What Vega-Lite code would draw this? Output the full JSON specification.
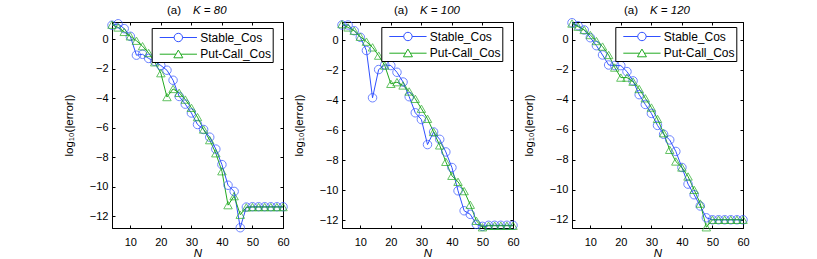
{
  "$schema": "https://vega.github.io/schema/vega-lite/v6.json",
  "padding": {"left": 62, "top": 3, "right": 5, "bottom": 0},
  "background": "white",
  "config": {
    "font": "Liberation Sans",
    "view": {"stroke": "#000", "strokeWidth": 1},
    "axis": {"domainColor": "#000", "tickColor": "#000", "labelColor": "#000", "titleColor": "#000", "grid": false, "titleFontWeight": "normal", "labelFontSize": 11, "titleFontSize": 11.5, "labelFont": "Liberation Sans", "titleFont": "Liberation Sans", "domainWidth": 1, "tickWidth": 1, "labelOverlap": false, "labelFlush": false, "labelBound": false, "tickCount": 20},
    "legend": {"labelFont": "Liberation Sans", "labelColor": "#000", "title": null, "orient": "none", "fillColor": "white", "strokeColor": "black", "padding": 1.5, "symbolSize": 225, "symbolOffset": 6, "rowPadding": 1.7, "labelFontSize": 12, "labelOffset": 25, "symbolStrokeWidth": 1}
  },
  "datasets": {
    "p80": [
      {"N":4,"m":"Stable_Cos","v":0.95},{"N":6,"m":"Stable_Cos","v":1.05},{"N":8,"m":"Stable_Cos","v":0.72},{"N":10,"m":"Stable_Cos","v":0.2},{"N":12,"m":"Stable_Cos","v":-1.08},{"N":14,"m":"Stable_Cos","v":-1.02},{"N":16,"m":"Stable_Cos","v":-1.3},{"N":18,"m":"Stable_Cos","v":-1.5},{"N":20,"m":"Stable_Cos","v":-1.78},{"N":22,"m":"Stable_Cos","v":-2.1},{"N":24,"m":"Stable_Cos","v":-2.78},{"N":26,"m":"Stable_Cos","v":-3.88},{"N":28,"m":"Stable_Cos","v":-4.4},{"N":30,"m":"Stable_Cos","v":-5.0},{"N":32,"m":"Stable_Cos","v":-5.78},{"N":34,"m":"Stable_Cos","v":-6.12},{"N":36,"m":"Stable_Cos","v":-6.64},{"N":38,"m":"Stable_Cos","v":-7.45},{"N":40,"m":"Stable_Cos","v":-8.5},{"N":42,"m":"Stable_Cos","v":-9.9},{"N":44,"m":"Stable_Cos","v":-10.32},{"N":46,"m":"Stable_Cos","v":-12.78},{"N":48,"m":"Stable_Cos","v":-11.38},{"N":50,"m":"Stable_Cos","v":-11.36},{"N":52,"m":"Stable_Cos","v":-11.36},{"N":54,"m":"Stable_Cos","v":-11.36},{"N":56,"m":"Stable_Cos","v":-11.36},{"N":58,"m":"Stable_Cos","v":-11.36},{"N":60,"m":"Stable_Cos","v":-11.36},
      {"N":4,"m":"Put-Call_Cos","v":0.99},{"N":6,"m":"Put-Call_Cos","v":0.8},{"N":8,"m":"Put-Call_Cos","v":0.5},{"N":10,"m":"Put-Call_Cos","v":0.2},{"N":12,"m":"Put-Call_Cos","v":-0.1},{"N":14,"m":"Put-Call_Cos","v":-0.47},{"N":16,"m":"Put-Call_Cos","v":-0.93},{"N":18,"m":"Put-Call_Cos","v":-1.56},{"N":20,"m":"Put-Call_Cos","v":-2.3},{"N":22,"m":"Put-Call_Cos","v":-3.92},{"N":24,"m":"Put-Call_Cos","v":-3.37},{"N":26,"m":"Put-Call_Cos","v":-3.63},{"N":28,"m":"Put-Call_Cos","v":-4.09},{"N":30,"m":"Put-Call_Cos","v":-4.65},{"N":32,"m":"Put-Call_Cos","v":-5.28},{"N":34,"m":"Put-Call_Cos","v":-6.12},{"N":36,"m":"Put-Call_Cos","v":-6.84},{"N":38,"m":"Put-Call_Cos","v":-7.73},{"N":40,"m":"Put-Call_Cos","v":-8.95},{"N":42,"m":"Put-Call_Cos","v":-11.25},{"N":44,"m":"Put-Call_Cos","v":-10.64},{"N":46,"m":"Put-Call_Cos","v":-11.9},{"N":48,"m":"Put-Call_Cos","v":-11.4},{"N":50,"m":"Put-Call_Cos","v":-11.38},{"N":52,"m":"Put-Call_Cos","v":-11.38},{"N":54,"m":"Put-Call_Cos","v":-11.38},{"N":56,"m":"Put-Call_Cos","v":-11.38},{"N":58,"m":"Put-Call_Cos","v":-11.38},{"N":60,"m":"Put-Call_Cos","v":-11.38}
    ],
    "p100": [
      {"N":4,"m":"Stable_Cos","v":1.0},{"N":6,"m":"Stable_Cos","v":1.0},{"N":8,"m":"Stable_Cos","v":0.62},{"N":10,"m":"Stable_Cos","v":0.18},{"N":12,"m":"Stable_Cos","v":-0.7},{"N":14,"m":"Stable_Cos","v":-3.85},{"N":16,"m":"Stable_Cos","v":-1.97},{"N":18,"m":"Stable_Cos","v":-1.66},{"N":20,"m":"Stable_Cos","v":-1.7},{"N":22,"m":"Stable_Cos","v":-2.15},{"N":24,"m":"Stable_Cos","v":-2.8},{"N":26,"m":"Stable_Cos","v":-3.78},{"N":28,"m":"Stable_Cos","v":-4.85},{"N":30,"m":"Stable_Cos","v":-5.3},{"N":32,"m":"Stable_Cos","v":-6.97},{"N":34,"m":"Stable_Cos","v":-6.13},{"N":36,"m":"Stable_Cos","v":-6.62},{"N":38,"m":"Stable_Cos","v":-7.46},{"N":40,"m":"Stable_Cos","v":-8.5},{"N":42,"m":"Stable_Cos","v":-10.05},{"N":44,"m":"Stable_Cos","v":-11.38},{"N":46,"m":"Stable_Cos","v":-11.62},{"N":48,"m":"Stable_Cos","v":-12.29},{"N":50,"m":"Stable_Cos","v":-12.42},{"N":52,"m":"Stable_Cos","v":-12.35},{"N":54,"m":"Stable_Cos","v":-12.35},{"N":56,"m":"Stable_Cos","v":-12.35},{"N":58,"m":"Stable_Cos","v":-12.35},{"N":60,"m":"Stable_Cos","v":-12.35},
      {"N":4,"m":"Put-Call_Cos","v":1.06},{"N":6,"m":"Put-Call_Cos","v":0.84},{"N":8,"m":"Put-Call_Cos","v":0.62},{"N":10,"m":"Put-Call_Cos","v":0.22},{"N":12,"m":"Put-Call_Cos","v":-0.11},{"N":14,"m":"Put-Call_Cos","v":-0.49},{"N":16,"m":"Put-Call_Cos","v":-1.04},{"N":18,"m":"Put-Call_Cos","v":-1.7},{"N":20,"m":"Put-Call_Cos","v":-2.92},{"N":22,"m":"Put-Call_Cos","v":-2.81},{"N":24,"m":"Put-Call_Cos","v":-3.03},{"N":26,"m":"Put-Call_Cos","v":-3.43},{"N":28,"m":"Put-Call_Cos","v":-3.92},{"N":30,"m":"Put-Call_Cos","v":-4.58},{"N":32,"m":"Put-Call_Cos","v":-5.25},{"N":34,"m":"Put-Call_Cos","v":-6.13},{"N":36,"m":"Put-Call_Cos","v":-7.02},{"N":38,"m":"Put-Call_Cos","v":-8.12},{"N":40,"m":"Put-Call_Cos","v":-9.05},{"N":42,"m":"Put-Call_Cos","v":-9.45},{"N":44,"m":"Put-Call_Cos","v":-10.07},{"N":46,"m":"Put-Call_Cos","v":-10.98},{"N":48,"m":"Put-Call_Cos","v":-12.05},{"N":50,"m":"Put-Call_Cos","v":-12.48},{"N":52,"m":"Put-Call_Cos","v":-12.38},{"N":54,"m":"Put-Call_Cos","v":-12.38},{"N":56,"m":"Put-Call_Cos","v":-12.38},{"N":58,"m":"Put-Call_Cos","v":-12.38},{"N":60,"m":"Put-Call_Cos","v":-12.38}
    ],
    "p120": [
      {"N":4,"m":"Stable_Cos","v":1.15},{"N":6,"m":"Stable_Cos","v":0.95},{"N":8,"m":"Stable_Cos","v":0.67},{"N":10,"m":"Stable_Cos","v":0.15},{"N":12,"m":"Stable_Cos","v":-0.38},{"N":14,"m":"Stable_Cos","v":-1.0},{"N":16,"m":"Stable_Cos","v":-1.67},{"N":18,"m":"Stable_Cos","v":-1.71},{"N":20,"m":"Stable_Cos","v":-1.71},{"N":22,"m":"Stable_Cos","v":-2.11},{"N":24,"m":"Stable_Cos","v":-2.73},{"N":26,"m":"Stable_Cos","v":-3.65},{"N":28,"m":"Stable_Cos","v":-4.3},{"N":30,"m":"Stable_Cos","v":-4.9},{"N":32,"m":"Stable_Cos","v":-5.7},{"N":34,"m":"Stable_Cos","v":-6.29},{"N":36,"m":"Stable_Cos","v":-6.67},{"N":38,"m":"Stable_Cos","v":-7.44},{"N":40,"m":"Stable_Cos","v":-8.51},{"N":42,"m":"Stable_Cos","v":-9.62},{"N":44,"m":"Stable_Cos","v":-10.33},{"N":46,"m":"Stable_Cos","v":-11.08},{"N":48,"m":"Stable_Cos","v":-11.87},{"N":50,"m":"Stable_Cos","v":-12.0},{"N":52,"m":"Stable_Cos","v":-12.0},{"N":54,"m":"Stable_Cos","v":-12.0},{"N":56,"m":"Stable_Cos","v":-12.0},{"N":58,"m":"Stable_Cos","v":-12.0},{"N":60,"m":"Stable_Cos","v":-12.0},
      {"N":4,"m":"Put-Call_Cos","v":1.1},{"N":6,"m":"Put-Call_Cos","v":0.89},{"N":8,"m":"Put-Call_Cos","v":0.67},{"N":10,"m":"Put-Call_Cos","v":0.33},{"N":12,"m":"Put-Call_Cos","v":-0.07},{"N":14,"m":"Put-Call_Cos","v":-0.44},{"N":16,"m":"Put-Call_Cos","v":-1.0},{"N":18,"m":"Put-Call_Cos","v":-1.84},{"N":20,"m":"Put-Call_Cos","v":-2.51},{"N":22,"m":"Put-Call_Cos","v":-2.51},{"N":24,"m":"Put-Call_Cos","v":-2.78},{"N":26,"m":"Put-Call_Cos","v":-3.27},{"N":28,"m":"Put-Call_Cos","v":-3.89},{"N":30,"m":"Put-Call_Cos","v":-4.51},{"N":32,"m":"Put-Call_Cos","v":-5.27},{"N":34,"m":"Put-Call_Cos","v":-6.22},{"N":36,"m":"Put-Call_Cos","v":-7.33},{"N":38,"m":"Put-Call_Cos","v":-8.11},{"N":40,"m":"Put-Call_Cos","v":-8.51},{"N":42,"m":"Put-Call_Cos","v":-9.11},{"N":44,"m":"Put-Call_Cos","v":-10.0},{"N":46,"m":"Put-Call_Cos","v":-10.92},{"N":48,"m":"Put-Call_Cos","v":-12.5},{"N":50,"m":"Put-Call_Cos","v":-12.0},{"N":52,"m":"Put-Call_Cos","v":-12.0},{"N":54,"m":"Put-Call_Cos","v":-12.0},{"N":56,"m":"Put-Call_Cos","v":-12.0},{"N":58,"m":"Put-Call_Cos","v":-12.0},{"N":60,"m":"Put-Call_Cos","v":-12.0}
    ]
  },
  "spacing": 59,
  "bounds": "flush",
  "resolve": {"legend": {"color": "independent"}},
  "hconcat": [
    {
      "width": 171, "height": 206,
      "data": {"name": "p80"},
      "layer": [
        {"layer": [
          {"mark": {"type": "line", "strokeWidth": 1},
           "encoding": {
             "x": {"field": "N", "type": "quantitative", "scale": {"domain": [4, 60], "nice": false, "zero": false}, "axis": {"values": [10,20,30,40,50,60], "tickCount": 20, "labelOverlap": false, "title": "N", "titleFontStyle": "italic", "tickSize": -3, "labelPadding": 11, "titlePadding": 0}},
             "y": {"field": "v", "type": "quantitative", "scale": {"domain": [-12.8, 1.17], "nice": false, "zero": false}, "axis": {"values": [-12,-10,-8,-6,-4,-2,0], "tickCount": 20, "labelOverlap": false, "format": "d", "title": "log₁₀(|error|)", "tickSize": -3, "labelPadding": 7, "titlePadding": 15}},
             "color": {"field": "m", "type": "nominal", "scale": {"domain": ["Stable_Cos", "Put-Call_Cos"], "range": ["#3050ff", "#22aa22"]},
               "legend": {"legendX": 39.7, "legendY": 6, "encode": {"symbols": {"update": {"shape": {"signal": "datum.value === 'Stable_Cos' ? 'M-1,0L0.925,0M2.045,0L3.97,0M2.045,0A0.56,0.56,0,1,1,0.925,0A0.56,0.56,0,1,1,2.045,0' : 'M-1,0L1.165,0M1.805,0L3.97,0M1.485,-0.55L2.085,0.48L0.885,0.48Z'"}, "fill": {"value": "transparent"}}}}}}
           }},
          {"transform": [{"filter": "datum.m === 'Stable_Cos'"}],
           "mark": {"type": "point", "shape": "circle", "filled": false, "size": 72, "strokeWidth": 1},
           "encoding": {
             "x": {"field": "N", "type": "quantitative"},
             "y": {"field": "v", "type": "quantitative"},
             "color": {"field": "m", "type": "nominal"}
           }},
          {"transform": [{"filter": "datum.m === 'Put-Call_Cos'"}],
           "mark": {"type": "point", "shape": "triangle-up", "filled": false, "size": 72, "strokeWidth": 1},
           "encoding": {
             "x": {"field": "N", "type": "quantitative"},
             "y": {"field": "v", "type": "quantitative"},
             "color": {"field": "m", "type": "nominal"}
           }}
        ]},
        {"mark": {"type": "point", "opacity": 0},
         "encoding": {
           "x": {"field": "N", "type": "quantitative", "axis": {"orient": "top", "values": [10,20,30,40,50,60], "tickCount": 20, "labels": false, "tickSize": -3, "title": "K = 80", "titleFontStyle": "italic", "titleX": 80.5, "titleY": -9, "titleAlign": "left", "titleBaseline": "alphabetic", "titleAngle": 0}},
           "y": {"field": "v", "type": "quantitative", "axis": {"orient": "right", "values": [-12,-10,-8,-6,-4,-2,0], "tickCount": 20, "labels": false, "tickSize": -3, "title": "(a)", "titleX": -102.5, "titleY": -9, "titleAlign": "right", "titleBaseline": "alphabetic", "titleAngle": 0}}
         }}
      ],
      "resolve": {"axis": {"x": "independent", "y": "independent"}}
    },
    {
      "width": 171, "height": 206,
      "data": {"name": "p100"},
      "layer": [
        {"layer": [
          {"mark": {"type": "line", "strokeWidth": 1},
           "encoding": {
             "x": {"field": "N", "type": "quantitative", "scale": {"domain": [4, 60], "nice": false, "zero": false}, "axis": {"values": [10,20,30,40,50,60], "tickCount": 20, "labelOverlap": false, "title": "N", "titleFontStyle": "italic", "tickSize": -3, "labelPadding": 11, "titlePadding": 0}},
             "y": {"field": "v", "type": "quantitative", "scale": {"domain": [-12.53, 1.2], "nice": false, "zero": false}, "axis": {"values": [-12,-10,-8,-6,-4,-2,0], "tickCount": 20, "labelOverlap": false, "format": "d", "title": "log₁₀(|error|)", "tickSize": -3, "labelPadding": 7, "titlePadding": 15}},
             "color": {"field": "m", "type": "nominal", "scale": {"domain": ["Stable_Cos", "Put-Call_Cos"], "range": ["#3050ff", "#22aa22"]},
               "legend": {"legendX": 39.3, "legendY": 5, "encode": {"symbols": {"update": {"shape": {"signal": "datum.value === 'Stable_Cos' ? 'M-1,0L0.925,0M2.045,0L3.97,0M2.045,0A0.56,0.56,0,1,1,0.925,0A0.56,0.56,0,1,1,2.045,0' : 'M-1,0L1.165,0M1.805,0L3.97,0M1.485,-0.55L2.085,0.48L0.885,0.48Z'"}, "fill": {"value": "transparent"}}}}}}
           }},
          {"transform": [{"filter": "datum.m === 'Stable_Cos'"}],
           "mark": {"type": "point", "shape": "circle", "filled": false, "size": 72, "strokeWidth": 1},
           "encoding": {
             "x": {"field": "N", "type": "quantitative"},
             "y": {"field": "v", "type": "quantitative"},
             "color": {"field": "m", "type": "nominal"}
           }},
          {"transform": [{"filter": "datum.m === 'Put-Call_Cos'"}],
           "mark": {"type": "point", "shape": "triangle-up", "filled": false, "size": 72, "strokeWidth": 1},
           "encoding": {
             "x": {"field": "N", "type": "quantitative"},
             "y": {"field": "v", "type": "quantitative"},
             "color": {"field": "m", "type": "nominal"}
           }}
        ]},
        {"mark": {"type": "point", "opacity": 0},
         "encoding": {
           "x": {"field": "N", "type": "quantitative", "axis": {"orient": "top", "values": [10,20,30,40,50,60], "tickCount": 20, "labels": false, "tickSize": -3, "title": "K = 100", "titleFontStyle": "italic", "titleX": 77.5, "titleY": -9, "titleAlign": "left", "titleBaseline": "alphabetic", "titleAngle": 0}},
           "y": {"field": "v", "type": "quantitative", "axis": {"orient": "right", "values": [-12,-10,-8,-6,-4,-2,0], "tickCount": 20, "labels": false, "tickSize": -3, "title": "(a)", "titleX": -105.5, "titleY": -9, "titleAlign": "right", "titleBaseline": "alphabetic", "titleAngle": 0}}
         }}
      ],
      "resolve": {"axis": {"x": "independent", "y": "independent"}}
    },
    {
      "width": 171, "height": 206,
      "data": {"name": "p120"},
      "layer": [
        {"layer": [
          {"mark": {"type": "line", "strokeWidth": 1},
           "encoding": {
             "x": {"field": "N", "type": "quantitative", "scale": {"domain": [4, 60], "nice": false, "zero": false}, "axis": {"values": [10,20,30,40,50,60], "tickCount": 20, "labelOverlap": false, "title": "N", "titleFontStyle": "italic", "tickSize": -3, "labelPadding": 11, "titlePadding": 0}},
             "y": {"field": "v", "type": "quantitative", "scale": {"domain": [-12.55, 1.2], "nice": false, "zero": false}, "axis": {"values": [-12,-10,-8,-6,-4,-2,0], "tickCount": 20, "labelOverlap": false, "format": "d", "title": "log₁₀(|error|)", "tickSize": -3, "labelPadding": 7, "titlePadding": 15}},
             "color": {"field": "m", "type": "nominal", "scale": {"domain": ["Stable_Cos", "Put-Call_Cos"], "range": ["#3050ff", "#22aa22"]},
               "legend": {"legendX": 43.3, "legendY": 5, "encode": {"symbols": {"update": {"shape": {"signal": "datum.value === 'Stable_Cos' ? 'M-1,0L0.925,0M2.045,0L3.97,0M2.045,0A0.56,0.56,0,1,1,0.925,0A0.56,0.56,0,1,1,2.045,0' : 'M-1,0L1.165,0M1.805,0L3.97,0M1.485,-0.55L2.085,0.48L0.885,0.48Z'"}, "fill": {"value": "transparent"}}}}}}
           }},
          {"transform": [{"filter": "datum.m === 'Stable_Cos'"}],
           "mark": {"type": "point", "shape": "circle", "filled": false, "size": 72, "strokeWidth": 1},
           "encoding": {
             "x": {"field": "N", "type": "quantitative"},
             "y": {"field": "v", "type": "quantitative"},
             "color": {"field": "m", "type": "nominal"}
           }},
          {"transform": [{"filter": "datum.m === 'Put-Call_Cos'"}],
           "mark": {"type": "point", "shape": "triangle-up", "filled": false, "size": 72, "strokeWidth": 1},
           "encoding": {
             "x": {"field": "N", "type": "quantitative"},
             "y": {"field": "v", "type": "quantitative"},
             "color": {"field": "m", "type": "nominal"}
           }}
        ]},
        {"mark": {"type": "point", "opacity": 0},
         "encoding": {
           "x": {"field": "N", "type": "quantitative", "axis": {"orient": "top", "values": [10,20,30,40,50,60], "tickCount": 20, "labels": false, "tickSize": -3, "title": "K = 120", "titleFontStyle": "italic", "titleX": 77.5, "titleY": -9, "titleAlign": "left", "titleBaseline": "alphabetic", "titleAngle": 0}},
           "y": {"field": "v", "type": "quantitative", "axis": {"orient": "right", "values": [-12,-10,-8,-6,-4,-2,0], "tickCount": 20, "labels": false, "tickSize": -3, "title": "(a)", "titleX": -105.5, "titleY": -9, "titleAlign": "right", "titleBaseline": "alphabetic", "titleAngle": 0}}
         }}
      ],
      "resolve": {"axis": {"x": "independent", "y": "independent"}}
    }
  ]
}
